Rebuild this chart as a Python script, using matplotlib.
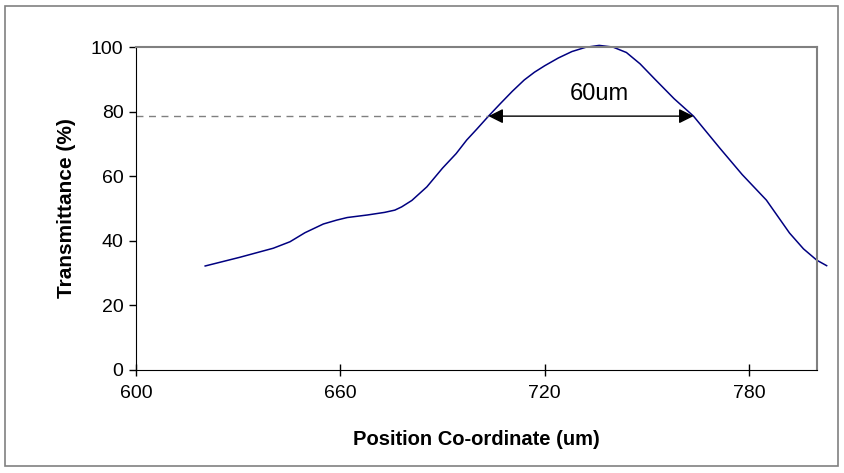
import matplotlib
matplotlib.use("Agg")
from matplotlib import pyplot as plt
from matplotlib.patches import Rectangle

plt.rcParams['font.family'] = ['Liberation Sans', 'DejaVu Sans']

# transmittance profile
position = [620.3, 630.5, 640.3, 645.2, 649.6, 655.0, 658.9, 662.0, 668.0,
            673.0, 676.0, 678.0, 681.0, 685.4, 690.0, 694.0, 697.1, 700.0,
            703.5, 707.0, 710.5, 714.0, 717.0, 720.0, 724.0, 728.0, 732.0,
            736.0, 740.0, 744.0, 748.0, 752.4, 758.0, 763.7, 771.5, 778.0,
            785.1, 791.9, 796.0, 799.9, 802.8]
transmittance = [32.2, 34.9, 37.7, 39.7, 42.5, 45.2, 46.4, 47.2, 48.0,
                 48.8, 49.5, 50.5, 52.5, 56.7, 62.5, 67.0, 71.2, 74.5,
                 78.6, 82.5, 86.3, 89.8, 92.2, 94.2, 96.6, 98.6, 99.9,
                 100.5, 100.0, 98.3, 94.8, 90.0, 84.0, 78.6, 68.6, 60.5,
                 52.6, 42.4, 37.5, 34.0, 32.3]

fwhm_left = 703.5
fwhm_right = 763.7
fwhm_level = 78.6

xticks = [600, 660, 720, 780]
yticks = [0, 20, 40, 60, 80, 100]

fig = plt.figure(figsize=(8.45, 4.73), dpi=100)
ax = fig.add_axes([0.161, 0.2178, 0.806, 0.6828])

ax.plot(position, transmittance, color='#000080', lw=1.1, clip_on=False)

# dashed guide + double arrow for the 60um width
ax.plot([600, fwhm_left], [fwhm_level, fwhm_level], color='#808080',
        lw=1, ls=(0, (5, 4)))
ax.annotate('', xy=(fwhm_left, fwhm_level), xytext=(fwhm_right, fwhm_level),
            arrowprops=dict(arrowstyle='<|-|>', color='black', lw=1,
                            mutation_scale=22, shrinkA=0, shrinkB=0))
ax.text(736, 85.5, '60um', ha='center', va='center', fontsize=17)

ax.set_xlim(600, 800)
ax.set_ylim(0, 100)
ax.set_xticks(xticks)
ax.set_yticks(yticks)
ax.tick_params(axis='x', direction='inout', length=8, width=1,
               labelsize=14, pad=7)
ax.tick_params(axis='y', direction='out', length=5, width=1,
               labelsize=14, pad=4)
for s in ['left', 'bottom']:
    ax.spines[s].set_color('black')
for s in ['top', 'right']:
    ax.spines[s].set_color('#808080')
    ax.spines[s].set_linewidth(1.5)

ax.set_xlabel('Position Co-ordinate (um)', fontsize=14.5, fontweight='bold',
              labelpad=20)
ax.set_ylabel('Transmittance (%)', fontsize=15, fontweight='bold',
              labelpad=11)

# outer chart border
fig.patches.append(Rectangle((5 / 845, 1 - 466 / 473), 833 / 845, 460 / 473,
                             transform=fig.transFigure, fill=False,
                             edgecolor='#808080', lw=1.2))

fig.savefig('out.png', dpi=100)
